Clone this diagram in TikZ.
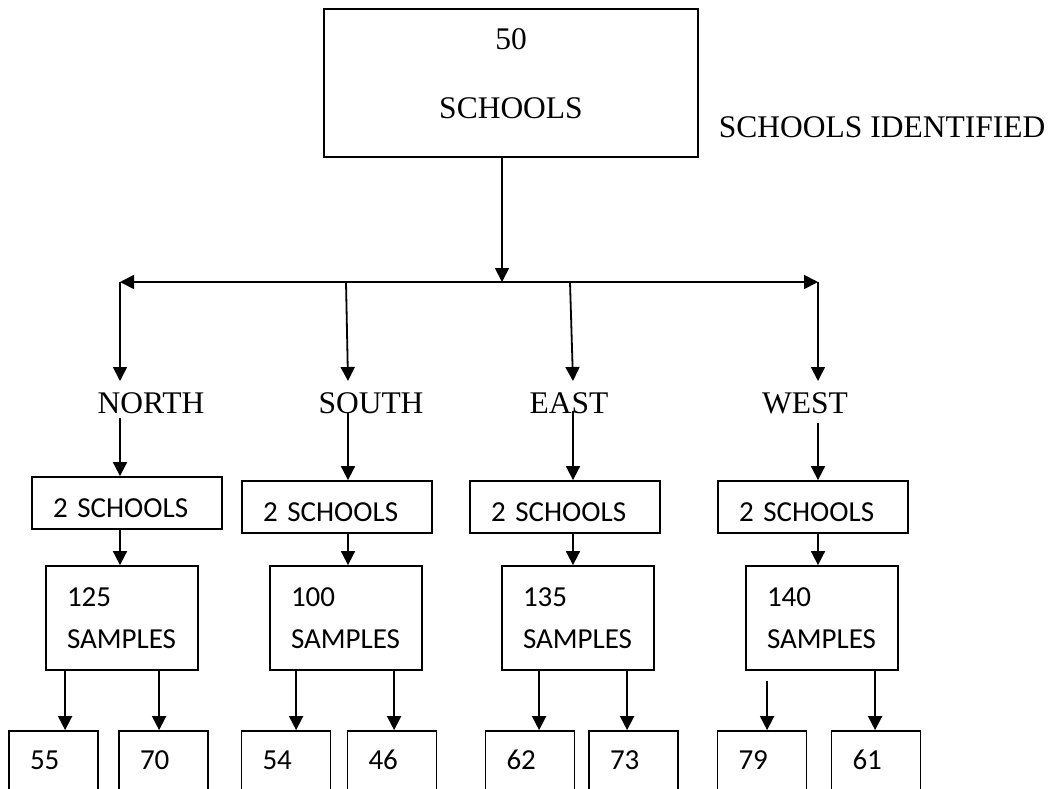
\documentclass[tikz,border=0pt]{standalone}
\usepackage{fontspec}
\setmainfont{Liberation Serif}
\newfontfamily\carlito{Carlito}
\usetikzlibrary{arrows.meta,calc}

\begin{document}
\begin{tikzpicture}[x=1pt,y=-1pt,line width=1.8pt,
  arr/.style={-{Triangle[length=14pt,width=14pt]}},
  twoarr/.style={{Triangle[length=14pt,width=14pt]}-{Triangle[length=14pt,width=14pt]}},
  lbl/.style={inner sep=0pt,font=\fontsize{31.5}{38}\selectfont},
  box/.style={draw,inner xsep=21pt,inner ysep=0pt,align=left,font=\carlito\fontsize{29}{42}\selectfont},
  twobox/.style={box,text width=148pt,minimum height=52pt,text height=28pt,text depth=0pt},
  samplebox/.style={box,text width=110pt,minimum height=104pt},
  countbox/.style={box,text width=47pt,minimum height=66pt,text height=19pt,text depth=8pt}]
\useasboundingbox (0,0) rectangle (1050,788);
\clip (0,0) rectangle (1050,788);

\node[draw,minimum width=374pt,minimum height=148pt,inner sep=0pt] (top) at (511,83) {};
\node[lbl] (t50) at (511,39) {50};
\node[lbl] (tSch) at (511,108) {SCHOOLS};
\node[lbl,anchor=west] (ident) at (718,127) {SCHOOLS IDENTIFIED};

\coordinate (jN) at (120,282);
\coordinate (jS) at (346,282);
\coordinate (jC) at (502,282);
\coordinate (jE) at (570,282);
\coordinate (jW) at (818,282);

\coordinate (aN) at (120,381);
\coordinate (aS) at (348,381);
\coordinate (aE) at (573,381);
\coordinate (aW) at (818,381);

\draw[arr] (top.south -| jC) -- (jC);
\draw[twoarr] (jN) -- (jW);
\draw[arr] (jN) -- (aN);
\draw[arr] (jS) -- (aS);
\draw[arr] (jE) -- (aE);
\draw[arr] (jW) -- (aW);

\node[lbl] (lblN) at (151,403.5) {NORTH};
\node[lbl] (lblS) at (371,403.5) {SOUTH};
\node[lbl] (lblE) at (569,403.5) {EAST};
\node[lbl] (lblW) at (805,403.5) {WEST};

\node[twobox] (twoN) at (127,503) {2 SCHOOLS};
\node[twobox] (twoS) at (337,507) {2 SCHOOLS};
\node[twobox] (twoE) at (565,507) {2 SCHOOLS};
\node[twobox] (twoW) at (813,507) {2 SCHOOLS};

\draw[arr] ($(aN |- lblN.south)+(0,3)$) -- (aN |- twoN.north);
\draw[arr] ($(aS |- lblS.south)+(0,-2)$) -- (aS |- twoS.north);
\draw[arr] ($(aE |- lblE.south)+(0,-4)$) -- (aE |- twoE.north);
\draw[arr] ($(aW |- lblW.south)+(0,8)$) -- (aW |- twoW.north);

\node[samplebox] (sN) at (122,618) {125\\SAMPLES};
\node[samplebox] (sS) at (346,618) {100\\SAMPLES};
\node[samplebox] (sE) at (578,618) {135\\SAMPLES};
\node[samplebox] (sW) at (822,618) {140\\SAMPLES};

\draw[arr] (aN |- twoN.south) -- (aN |- sN.north);
\draw[arr] (aS |- twoS.south) -- (aS |- sS.north);
\draw[arr] (aE |- twoE.south) -- (aE |- sE.north);
\draw[arr] (aW |- twoW.south) -- (aW |- sW.north);

\node[countbox] (bN1) at (53.5,764) {55};
\node[countbox] (bN2) at (163.5,764) {70};
\node[countbox] (bS1) at (286,764) {54};
\node[countbox] (bS2) at (392,764) {46};
\node[countbox] (bE1) at (530,764) {62};
\node[countbox] (bE2) at (633.5,764) {73};
\node[countbox] (bW1) at (762,764) {79};
\node[countbox] (bW2) at (876,764) {61};

\draw[arr] ($(sN.south west)+(20,0)$) coordinate (pN1) -- (pN1 |- bN1.north);
\draw[arr] ($(sN.south west)+(114,0)$) coordinate (pN2) -- (pN2 |- bN2.north);
\draw[arr] ($(sS.south west)+(27,0)$) coordinate (pS1) -- (pS1 |- bS1.north);
\draw[arr] ($(sS.south west)+(125,0)$) coordinate (pS2) -- (pS2 |- bS2.north);
\draw[arr] ($(sE.south west)+(38,0)$) coordinate (pE1) -- (pE1 |- bE1.north);
\draw[arr] ($(sE.south west)+(126,0)$) coordinate (pE2) -- (pE2 |- bE2.north);
\draw[arr] ($(sW.south west)+(22,10)$) coordinate (pW1) -- (pW1 |- bW1.north);
\draw[arr] ($(sW.south west)+(130,0)$) coordinate (pW2) -- (pW2 |- bW2.north);

\end{tikzpicture}
\end{document}
